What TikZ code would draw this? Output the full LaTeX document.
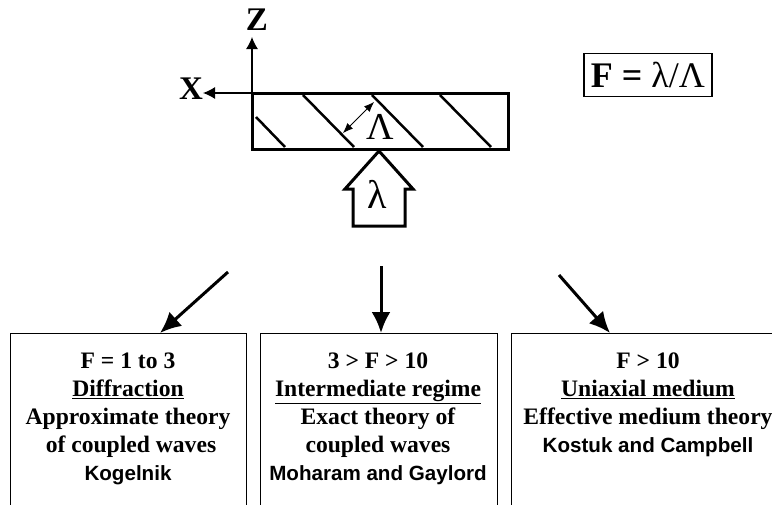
\documentclass[tikz,border=0pt]{standalone}
\usepackage{fontspec}
\setmainfont{Liberation Serif}
\setsansfont{Liberation Sans}
\usetikzlibrary{arrows.meta}

\begin{document}
\begin{tikzpicture}[
    x=1pt, y=-1pt,
    box/.style={rectangle, draw, line width=1pt, minimum height=200pt, anchor=north west, inner sep=0pt},
    regime/.style={align=center, anchor=north, inner sep=0pt, font=\bfseries\fontsize{23.6}{28}\selectfont},
    axislabel/.style={inner sep=0pt, font=\bfseries\fontsize{33}{33}\selectfont},
    line/.style={-{Latex[length=21pt, width=19pt]}, line width=3pt},
    axis/.style={-{Latex[length=12pt, width=12pt]}, line width=1.2pt},
    fringe/.style={line width=2.5pt}
]
\useasboundingbox (0,0) rectangle (772,504);
\clip (0,0) rectangle (772,504);

% Reseau
\node[rectangle, draw, line width=3pt, outer sep=0pt, minimum width=256pt, minimum height=56pt, inner sep=0pt] (grating) at (380,121) {};
\node[axislabel] (zlabel) at (257,20) {Z};
\node[axislabel] (xlabel) at (191,89) {X};
\coordinate (ztip) at (252,37);
\coordinate (xtip) at (203,93);
\draw[axis] (grating.north west) -- (ztip);
\draw[axis] (grating.north west) -- (xtip);

% Franges
\draw[fringe] (256,117) -- (285,147);
\draw[fringe] (303,95) -- (354,147);
\draw[fringe] (372,95) -- (423,147);
\draw[fringe] (440,95) -- (491,147);
\draw[{Latex[length=10pt, width=8pt]}-{Latex[length=10pt, width=8pt]}, line width=0.8pt] (343,133) -- (374,102);
\node[inner sep=0pt, font=\fontsize{38}{38}\selectfont] (period) at (380,127) {Λ};

% Onde incidente
\draw[line width=3pt, miter limit=10] (379,151) -- (413,189) -- (405,189) -- (405,226) -- (353,226) -- (353,189) -- (345,189) -- cycle;
\node[inner sep=0pt, font=\fontsize{40}{40}\selectfont] (wave) at (377,194) {λ};

% Formule
\node[rectangle, draw, line width=1.2pt, minimum width=128pt, minimum height=43pt, inner sep=0pt, font=\fontsize{36}{36}\selectfont] (formula) at (648,75) {\textbf{F =} λ/Λ};

% Boites
\node[box, minimum width=236pt] (diffraction) at (10,333) {};
\node[box, minimum width=237pt] (intermediate) at (260,333) {};
\node[box, minimum width=274pt] (uniaxial) at (511,333) {};

\node[regime] (difftext) at (128,353) {F = 1 to 3\\\underline{Diffraction}\\Approximate theory\\\hspace*{6pt}of coupled waves\\\sffamily\fontsize{20.6}{28}\selectfont Kogelnik};
\node[regime] (intertext) at (378,353) {3 > F > 10\\\underline{Intermediate regime}\\Exact theory of\\coupled waves\\\sffamily\fontsize{20.6}{28}\selectfont Moharam and Gaylord};
\node[regime] (unitext) at (648,353) {F > 10\\\underline{Uniaxial medium}\\Effective medium theory\\\sffamily\fontsize{20.6}{28}\selectfont Kostuk and Campbell};

% Fleches
\coordinate (starta) at (228,272);
\coordinate (startb) at (381,266);
\coordinate (startc) at (559,275);
\coordinate (tipa) at (160,333);
\coordinate (tipb) at (381,333);
\coordinate (tipc) at (610,333);
\draw[line] (starta) -- (tipa);
\draw[line] (startb) -- (tipb);
\draw[line] (startc) -- (tipc);

\end{tikzpicture}
\end{document}
